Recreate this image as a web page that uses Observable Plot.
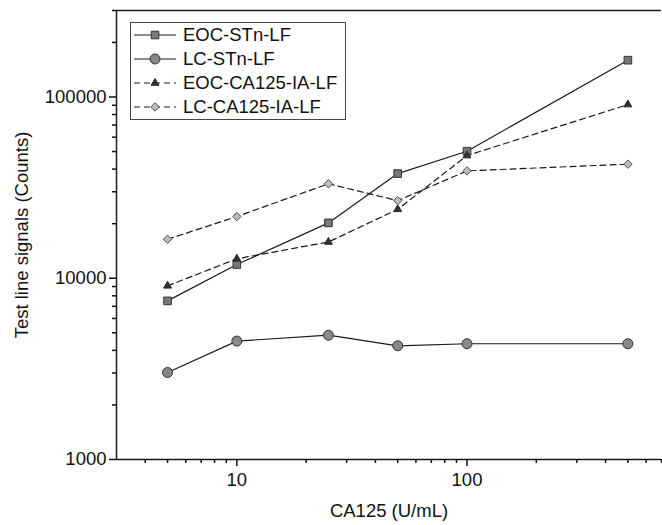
<!DOCTYPE html>
<html>
<head>
<meta charset="utf-8">
<script src="https://cdn.jsdelivr.net/npm/d3@7"></script>
<script src="https://cdn.jsdelivr.net/npm/@observablehq/plot@0.6"></script>
<style>
  html, body { margin: 0; padding: 0; background: #fff; }
  #wrap { position: relative; width: 662px; height: 525px; font-family: Arial, "Liberation Sans", sans-serif; }
  #legend { position: absolute; left: 130px; top: 22px; border: 1px solid #444; background: #fff; padding-right: 8px; }
  #legend .row { height: 24px; display: flex; align-items: center; font-size: 18.5px; color: #111; white-space: nowrap; }
  #legend svg { display: block; margin-right: 4px; }
</style>
</head>
<body>
<div id="wrap"><div id="legend"></div></div>
<script>
// ---- data ----
const xVals = [5, 10, 25, 50, 100, 500];
const eocSTn = [7500, 11900, 20200, 37800, 50200, 159600];
const lcSTn = [3020, 4500, 4850, 4240, 4350, 4350];
const eocIA = [9080, 12800, 15850, 24000, 47500, 90800];
const lcIA = [16400, 21900, 33200, 26800, 39100, 42600];
const seriesNames = ["EOC-STn-LF", "LC-STn-LF", "EOC-CA125-IA-LF", "LC-CA125-IA-LF"];
const xDomain = [3, 700];
const yDomain = [1000, 300000];
const xMajorTicks = [10, 100];
const xMinorTicks = [4, 5, 6, 7, 8, 9, 20, 30, 40, 50, 60, 70, 80, 90, 200, 300, 400, 500, 600, 700];
const yMajorTicks = [1000, 10000, 100000];
const yMinorTicks = [2000, 3000, 4000, 5000, 6000, 7000, 8000, 9000,
  20000, 30000, 40000, 50000, 60000, 70000, 80000, 90000, 200000, 300000];

// ---- styles per series ----
const styles = [
  {symbol: "square", r: 4.3, fill: "#777", stroke: "#333", dash: null},
  {symbol: "circle", r: 5, fill: "#888", stroke: "#333", dash: null},
  {symbol: "triangle", r: 2.9, fill: "#333", stroke: "#222", dash: "6,4"},
  {symbol: "diamond2", r: 3.8, fill: "#bbb", stroke: "#555", dash: "6,4"}
];
const allSeries = [eocSTn, lcSTn, eocIA, lcIA];
const tables = allSeries.map((vals, k) => xVals.map((x, i) => ({x, y: vals[i], s: seriesNames[k]})));

const marks = [];
tables.forEach((t, k) => {
  const st = styles[k];
  marks.push(Plot.line(t, {x: "x", y: "y", stroke: "#1a1a1a", strokeWidth: 1.2, strokeDasharray: st.dash || undefined}));
});
tables.forEach((t, k) => {
  const st = styles[k];
  marks.push(Plot.dot(t, {x: "x", y: "y", symbol: st.symbol, r: st.r, fill: st.fill, stroke: st.stroke, strokeWidth: 1}));
});

const chart = Plot.plot({
  width: 662,
  height: 525,
  marginLeft: 116,
  marginRight: 1,
  marginTop: 10,
  marginBottom: 66,
  x: {type: "log", domain: xDomain},
  y: {type: "log", domain: yDomain},
  style: {fontFamily: "Arial, 'Liberation Sans', sans-serif", fontSize: "18px", background: "white", color: "#111"},
  marks: [
    Plot.axisX(xMinorTicks, {tickSize: 4, strokeWidth: 1.5, tickFormat: () => "", label: null}),
    Plot.axisX(xMajorTicks, {tickSize: 7, strokeWidth: 1.5, tickPadding: 6, tickFormat: d => String(d),
      label: "CA125 (U/mL)", labelAnchor: "center", labelArrow: "none", labelOffset: 57, fontSize: 18.5}),
    Plot.axisY(yMinorTicks, {tickSize: 4, strokeWidth: 1.5, tickFormat: () => "", label: null}),
    Plot.axisY(yMajorTicks, {tickSize: 7, strokeWidth: 1.5, tickPadding: 3, tickFormat: d => String(d),
      label: "Test line signals (Counts)", labelAnchor: "center", labelArrow: "none", labelOffset: 102, fontSize: 18.5}),
    ...marks,
    Plot.ruleY([yDomain[0], yDomain[1]], {stroke: "#1a1a1a", strokeWidth: 1.5, x1: xDomain[0], x2: xDomain[1]}),
    Plot.ruleX([xDomain[0]], {stroke: "#1a1a1a", strokeWidth: 1.5, y1: yDomain[0], y2: yDomain[1]})
  ]
});
document.getElementById("wrap").prepend(chart);

// ---- legend (HTML overlay) ----
const legend = document.getElementById("legend");
seriesNames.forEach((name, k) => {
  const st = styles[k];
  const row = document.createElement("div");
  row.className = "row";
  const ns = "http://www.w3.org/2000/svg";
  const svg = document.createElementNS(ns, "svg");
  svg.setAttribute("width", 48);
  svg.setAttribute("height", 24);
  const line = document.createElementNS(ns, "line");
  line.setAttribute("x1", 3); line.setAttribute("x2", 45);
  line.setAttribute("y1", 12); line.setAttribute("y2", 12);
  line.setAttribute("stroke", "#1a1a1a");
  line.setAttribute("stroke-width", 1.2);
  if (st.dash) line.setAttribute("stroke-dasharray", st.dash);
  svg.appendChild(line);
  const typeMap = {square: d3.symbolSquare, circle: d3.symbolCircle, triangle: d3.symbolTriangle, diamond2: d3.symbolDiamond2};
  const p = document.createElementNS(ns, "path");
  p.setAttribute("d", d3.symbol(typeMap[st.symbol], st.r * st.r * Math.PI)());
  p.setAttribute("transform", "translate(24,12)");
  p.setAttribute("fill", st.fill);
  p.setAttribute("stroke", st.stroke);
  svg.appendChild(p);
  row.appendChild(svg);
  const span = document.createElement("span");
  span.textContent = name;
  row.appendChild(span);
  legend.appendChild(row);
});
</script>
</body>
</html>
